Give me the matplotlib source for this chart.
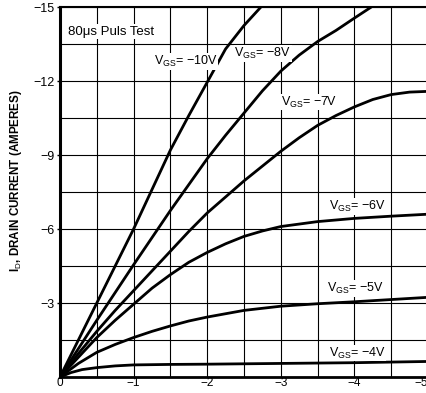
import numpy as np
import matplotlib
matplotlib.use("Agg")
import matplotlib.pyplot as plt
from matplotlib.ticker import MultipleLocator

plt.rcParams["font.family"] = ["Liberation Sans", "DejaVu Sans"]
plt.rcParams["mathtext.fontset"] = "custom"
plt.rcParams["mathtext.rm"] = "Liberation Sans"

# drain-source voltage (V) and drain current (A) per gate voltage
vds_10 = [0, -0.25, -0.5, -1.0, -1.25, -1.5, -1.75, -2.0, -2.25, -2.5, -2.73]
id_10 = [0, -1.5, -3.0, -6.0, -7.6, -9.2, -10.6, -11.95, -13.3, -14.25, -15.0]

vds_8 = [0, -0.25, -0.5, -1.0, -1.25, -1.5, -1.75, -2.0, -2.25, -2.5, -2.75, -3.0,
         -3.25, -3.5, -3.75, -4.0, -4.23]
id_8 = [0, -1.15, -2.3, -4.55, -5.65, -6.75, -7.8, -8.85, -9.8, -10.7, -11.6, -12.4,
        -13.05, -13.6, -14.05, -14.55, -15.0]

vds_7 = [0, -0.25, -0.5, -0.75, -1.0, -1.25, -1.5, -1.75, -2.0, -2.25, -2.5, -2.75,
         -3.0, -3.25, -3.5, -3.75, -4.0, -4.25, -4.5, -4.75, -5.0]
id_7 = [0, -0.95, -1.85, -2.7, -3.5, -4.3, -5.1, -5.9, -6.65, -7.3, -7.95, -8.55,
        -9.15, -9.7, -10.2, -10.6, -10.95, -11.25, -11.45, -11.55, -11.58]

vds_6 = [0, -0.25, -0.5, -0.75, -1.0, -1.25, -1.5, -1.75, -2.0, -2.25, -2.5, -2.75,
         -3.0, -3.5, -4.0, -4.5, -5.0]
id_6 = [0, -0.8, -1.6, -2.3, -2.95, -3.6, -4.15, -4.65, -5.05, -5.4, -5.7, -5.92,
        -6.1, -6.3, -6.43, -6.52, -6.6]

vds_5 = [0, -0.25, -0.5, -0.75, -1.0, -1.25, -1.5, -1.75, -2.0, -2.5, -3.0, -3.5,
         -4.0, -4.5, -5.0]
id_5 = [0, -0.55, -1.0, -1.32, -1.6, -1.85, -2.07, -2.27, -2.43, -2.7, -2.87, -2.97,
        -3.05, -3.14, -3.23]

vds_4 = [0, -0.15, -0.3, -0.5, -0.75, -1.0, -1.5, -2.0, -3.0, -4.0, -5.0]
id_4 = [0, -0.18, -0.3, -0.38, -0.45, -0.49, -0.51, -0.52, -0.55, -0.58, -0.63]

curves = [(vds_10, id_10), (vds_8, id_8), (vds_7, id_7),
          (vds_6, id_6), (vds_5, id_5), (vds_4, id_4)]

# curve labels: text, anchor (V, A), horizontal alignment
labels = [("−10V", -2.14, -12.8, "right"),
          ("−8V", -2.37, -13.1, "left"),
          ("−7V", -3.0, -11.15, "left"),
          ("−6V", -3.65, -6.9, "left"),
          ("−5V", -3.63, -3.6, "left"),
          ("−4V", -3.65, -0.97, "left")]

x_ticks = [0, -1, -2, -3, -4, -5]
x_ticklabels = ["0", "−1", "−2", "−3", "−4", "−5"]
y_ticks = [-3, -6, -9, -12, -15]
y_ticklabels = ["−3", "−6", "−9", "−12", "−15"]

fig = plt.figure(figsize=(4.27, 3.93), dpi=100)
ax = fig.add_axes([60 / 427, 16 / 393, 368 / 427, 370 / 393])

ax.set_xlim(0, -5)
ax.set_ylim(0, -15)
ax.xaxis.set_minor_locator(MultipleLocator(0.5))
ax.yaxis.set_minor_locator(MultipleLocator(1.5))
ax.grid(which="both", color="black", lw=0.8)
ax.set_axisbelow(True)

for vx, iy in curves:
    ax.plot(vx, iy, color="black", lw=2.0, solid_capstyle="round")

for txt, x, y, ha in labels:
    ax.text(x, y, r"V$_{\mathrm{GS}}$= " + txt, ha=ha, va="center", fontsize=9,
            bbox=dict(facecolor="white", edgecolor="none", pad=0.6))

ax.text(-0.11, -14.0, "80μs Puls Test", ha="left", va="center", fontsize=9.5,
        bbox=dict(facecolor="white", edgecolor="none", pad=1.0))

ax.set_xticks(x_ticks)
ax.set_xticklabels(x_ticklabels)
ax.set_yticks(y_ticks)
ax.set_yticklabels(y_ticklabels)
ax.tick_params(axis="y", which="major", length=2, width=1, labelsize=9, pad=2)
ax.tick_params(axis="x", which="major", length=0, labelsize=8.5, pad=0)
ax.tick_params(which="minor", length=0)
ax.get_xticklabels()[-1].set_horizontalalignment("right")

ax.spines["left"].set_linewidth(2.2)
ax.spines["bottom"].set_linewidth(2.0)
ax.spines["top"].set_linewidth(1.5)
ax.spines["right"].set_linewidth(1.5)

fig.text(16 / 427, 1 - 181 / 393, r"I$_{\mathrm{D}}$, DRAIN CURRENT (AMPERES)",
         rotation=90, ha="center", va="center", fontsize=8.4, fontweight="bold")

fig.savefig("out.png", dpi=100)
